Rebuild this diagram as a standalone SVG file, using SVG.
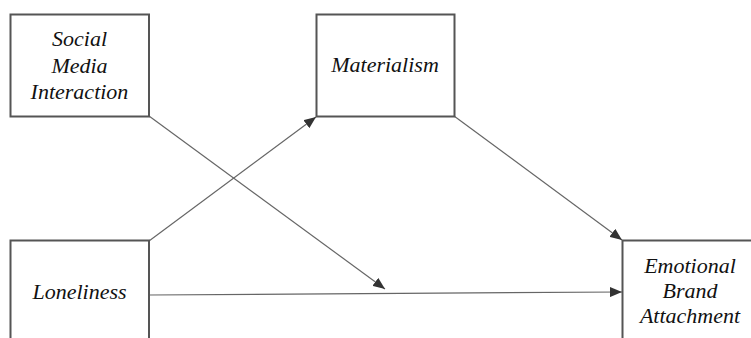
<svg xmlns="http://www.w3.org/2000/svg" width="751" height="338" viewBox="0 0 751 338">
<style>
.box{fill:#fff;stroke:#555;stroke-width:2}
.lbl{font-family:"Liberation Serif","Times New Roman",serif;font-style:italic;font-size:22px;fill:#111;text-anchor:middle}
.edge{stroke:#666;stroke-width:1.2;fill:none}
</style>
<defs>
<marker id="ah" viewBox="0 0 12 10" refX="12" refY="5" markerWidth="12" markerHeight="10" markerUnits="userSpaceOnUse" orient="auto">
<path d="M0,0 L12,5 L0,10 Z" fill="#333"/>
</marker>
</defs>
<rect width="751" height="338" fill="#fff"/>
<g id="connectors">
<line class="edge" x1="149" y1="116" x2="385" y2="289" marker-end="url(#ah)"/>
<line class="edge" x1="149" y1="241" x2="316" y2="117" marker-end="url(#ah)"/>
<line class="edge" x1="454" y1="116" x2="622" y2="240" marker-end="url(#ah)"/>
<line class="edge" x1="149" y1="295" x2="622" y2="292" marker-end="url(#ah)"/>
</g>
<g id="social">
<rect class="box" x="10.5" y="14.5" width="138.5" height="102"/>
<text class="lbl" x="79.5" y="46">Social</text>
<text class="lbl" x="79.5" y="72.5">Media</text>
<text class="lbl" x="79.5" y="99">Interaction</text>
</g>
<g id="materialism">
<rect class="box" x="316.5" y="14.5" width="138" height="102"/>
<text class="lbl" x="385" y="71.5">Materialism</text>
</g>
<g id="loneliness">
<rect class="box" x="10.5" y="240.5" width="138.5" height="110"/>
<text class="lbl" x="79.5" y="299">Loneliness</text>
</g>
<g id="emotional">
<rect class="box" x="622.5" y="240.5" width="140" height="110"/>
<text class="lbl" x="690" y="273">Emotional</text>
<text class="lbl" x="690" y="298">Brand</text>
<text class="lbl" x="690" y="323">Attachment</text>
</g>
</svg>
